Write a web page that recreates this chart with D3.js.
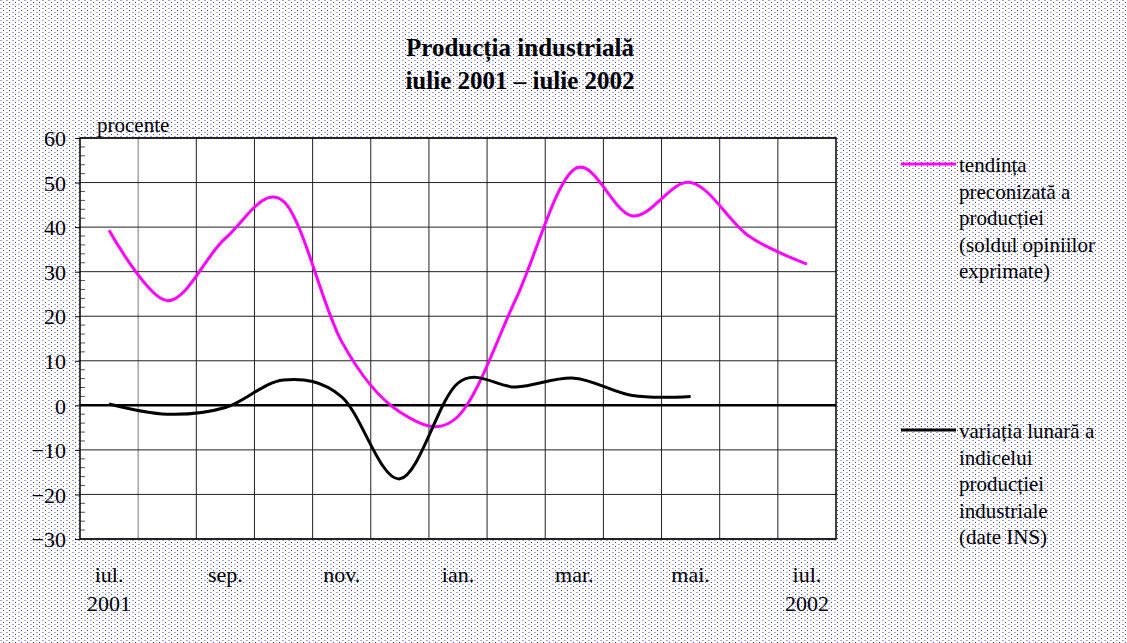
<!DOCTYPE html>
<html>
<head>
<meta charset="utf-8">
<title>Producția industrială</title>
<script src="https://cdn.jsdelivr.net/npm/d3@7"></script>
<style>
  body { margin: 0; }
  text { font-family: "Liberation Serif", "Times New Roman", serif; fill: #000; }
</style>
</head>
<body>
<div id="chart"></div>
<script>
// luni (categorii), etichete si serii
var months = ["iul.", "aug.", "sep.", "oct.", "nov.", "dec.", "ian.", "feb.", "mar.", "apr.", "mai.", "iun.", "iul."];
var years = ["2001", "", "", "", "", "", "", "", "", "", "", "", "2002"];
var tendinta = [39.3, 23.5, 37.5, 45.8, 14.3, -1.5, -2.5, 24, 53, 42.5, 50, 38, 31.7];
var variatia = [0.3, -2.0, -0.5, 5.7, 1.9, -16.5, 5.0, 4.1, 6.1, 2.2, 2.0];
var yTicks = [60, 50, 40, 30, 20, 10, 0, -10, -20, -30];
var titleLines = ["Producția industrială", "iulie 2001 – iulie 2002"];
var legendPink = ["tendința", "preconizată a", "producției", "(soldul opiniilor", "exprimate)"];
var legendBlack = ["variația lunară a", "indicelui", "producției", "industriale", "(date INS)"];

var W = 1127, H = 643;
var plot = {left: 80, top: 138, right: 836, bottom: 539};

var svg = d3.select("#chart").append("svg")
    .attr("width", W).attr("height", H);

// fundal punctat
var pat = svg.append("defs").append("pattern")
    .attr("id", "dots").attr("width", 6).attr("height", 4)
    .attr("patternUnits", "userSpaceOnUse");
pat.append("rect").attr("width", 6).attr("height", 4).attr("fill", "#fff");
pat.append("rect").attr("x", 0).attr("y", 0).attr("width", 2).attr("height", 1).attr("fill", "#a4a4f2");
pat.append("rect").attr("x", 3).attr("y", 2).attr("width", 1).attr("height", 1).attr("fill", "#3a3a98");
svg.append("rect").attr("width", W).attr("height", H).attr("fill", "url(#dots)");

svg.selectAll(".title").data(titleLines).enter().append("text")
    .attr("x", 520).attr("y", function(d, i) { return 56 + i * 33; })
    .attr("text-anchor", "middle")
    .style("font-size", "25px").style("font-weight", "bold")
    .text(function(d) { return d; });

var x = d3.scaleBand().domain(d3.range(months.length))
    .range([plot.left, plot.right]);
var y = d3.scaleLinear().domain([-30, 60]).range([plot.bottom, plot.top]);
var cx = function(i) { return x(i) + x.bandwidth() / 2; };

var g = svg.append("g");
g.append("rect").attr("x", plot.left).attr("y", plot.top)
    .attr("width", plot.right - plot.left).attr("height", plot.bottom - plot.top)
    .attr("fill", "#fff");

// grila verticala (intre luni)
g.selectAll(".vgrid").data(d3.range(1, months.length)).enter().append("line")
    .attr("x1", function(i) { return x(i); }).attr("x2", function(i) { return x(i); })
    .attr("y1", plot.top).attr("y2", plot.bottom)
    .attr("stroke", function(i) { return i == 1 ? "#777" : "#222"; }).attr("stroke-width", 1);

// grila orizontala
g.selectAll(".hgrid").data(yTicks).enter().append("line")
    .attr("x1", plot.left).attr("x2", plot.right)
    .attr("y1", function(d) { return y(d); }).attr("y2", function(d) { return y(d); })
    .attr("stroke", "#222").attr("stroke-width", 1);

// axa y cu etichete
var yAxis = d3.axisLeft(y).tickValues(yTicks).tickSize(5).tickPadding(9)
    .tickFormat(function(d) { return d < 0 ? "\u2212" + (-d) : d; });
var ya = svg.append("g").attr("transform", "translate(" + plot.left + ",0)").call(yAxis);
ya.select(".domain").remove();
ya.selectAll("text").style("font-size", "22px").attr("dy", "0.35em");
ya.selectAll("line").attr("stroke", "#000");

// diviziuni minore interioare
var minor = d3.range(-28, 60, 2).filter(function(d) { return d % 10 != 0; });
svg.selectAll(".minor").data(minor).enter().append("line")
    .attr("x1", plot.left).attr("x2", plot.left + 5)
    .attr("y1", function(d) { return y(d); }).attr("y2", function(d) { return y(d); })
    .attr("stroke", "#555");

svg.append("text").attr("x", 97).attr("y", 132)
    .style("font-size", "21px").text("procente");

// linia zero
svg.append("line").attr("x1", plot.left).attr("x2", plot.right)
    .attr("y1", y(0)).attr("y2", y(0))
    .attr("stroke", "#000").attr("stroke-width", 2.5);

// chenar
svg.append("rect").attr("x", plot.left).attr("y", plot.top)
    .attr("width", plot.right - plot.left).attr("height", plot.bottom - plot.top)
    .attr("fill", "none").attr("stroke", "#000").attr("stroke-width", 1.5);

// axa x
var xAxis = d3.axisBottom(x).tickSize(0).tickPadding(0)
    .tickFormat(function(i) { return i % 2 == 0 ? months[i] : ""; });
var xa = svg.append("g").attr("transform", "translate(0," + plot.bottom + ")").call(xAxis);
xa.select(".domain").remove();
xa.selectAll("text").style("font-size", "22px").attr("y", 43).attr("dy", 0);

svg.selectAll(".year").data(years).enter().append("text")
    .attr("x", function(d, i) { return cx(i); }).attr("y", 611)
    .attr("text-anchor", "middle").style("font-size", "22px")
    .text(function(d) { return d; });

// serii
var line = d3.line()
    .x(function(d, i) { return cx(i); })
    .y(function(d) { return y(d); })
    .curve(d3.curveCardinal.tension(0));

svg.append("path").datum(tendinta).attr("d", line)
    .attr("fill", "none").attr("stroke", "#ff00ff").attr("stroke-width", 3);
svg.append("path").datum(variatia).attr("d", line)
    .attr("fill", "none").attr("stroke", "#000").attr("stroke-width", 3);

// legenda
function legend(lines, color, ly) {
    svg.append("line").attr("x1", 901).attr("x2", 956)
        .attr("y1", ly).attr("y2", ly)
        .attr("stroke", color).attr("stroke-width", 3);
    svg.selectAll(null).data(lines).enter().append("text")
        .attr("x", 959).attr("y", function(d, i) { return ly + 8 + i * 26.5; })
        .style("font-size", "21px")
        .text(function(d) { return d; });
}
legend(legendPink, "#ff00ff", 164);
legend(legendBlack, "#000", 430);
</script>
</body>
</html>
